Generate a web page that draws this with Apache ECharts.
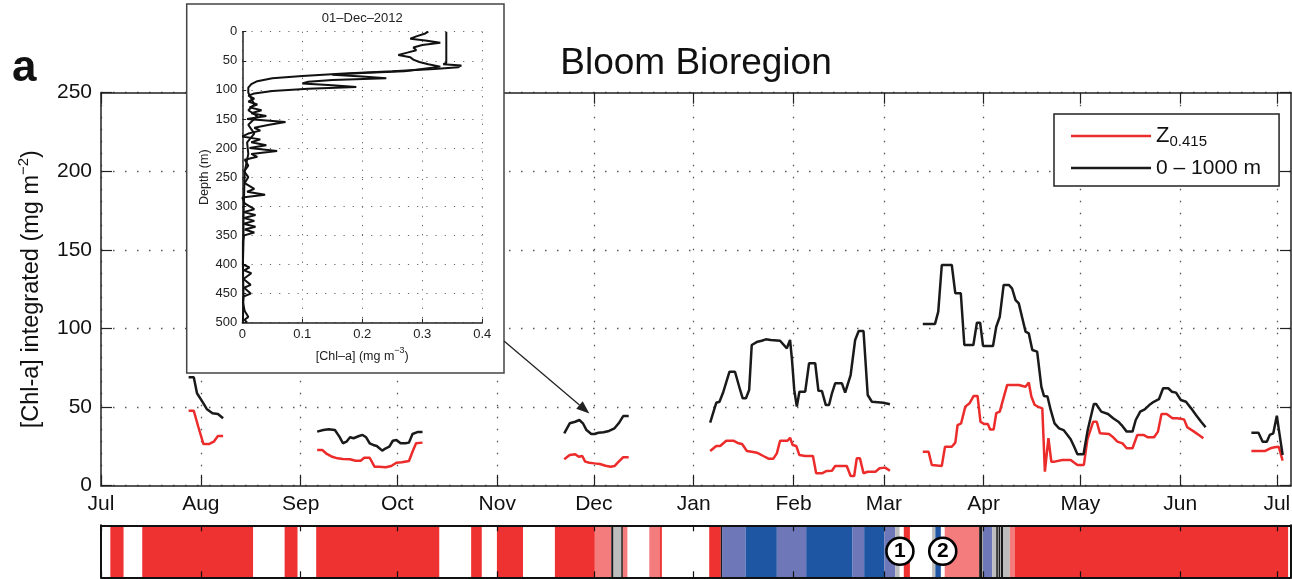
<!DOCTYPE html>
<html><head><meta charset="utf-8">
<script src="https://cdn.jsdelivr.net/npm/echarts@6/dist/echarts.min.js"></script>
<style>html,body{margin:0;padding:0;background:#fff}#c{width:1292px;height:579px}</style>
</head><body><div id="c"></div>
<script>
// ---------------- DATA (x = days since 1 Jul 2012) ----------------
const monthLabels = ['Jul','Aug','Sep','Oct','Nov','Dec','Jan','Feb','Mar','Apr','May','Jun','Jul'];
const xMaxDay = 369.4;            // axis ends ~5 Jul 2013
const yMin = 0, yMax = 250, yStep = 50;

// 0-1000 m integrated (black)
const bAugDays = [27.2, 28.8, 29.8, 31.8, 32.9, 34.6, 36.3, 37.9];
const bAugVals = [69, 69, 58.8, 52.4, 48.6, 46.1, 45.6, 42.9];
const bSepDays = [67.1, 69.0, 70.7, 72.6, 74.0, 75.1, 76.2, 77.3, 78.4, 80.1, 81.2, 82.3, 83.4, 84.5, 85.6, 87.3, 88.4, 89.5, 90.6, 91.7, 93.0, 94.5, 95.6, 96.7, 98.4, 99.8];
const bSepVals = [34.4, 35.4, 35.9, 35.4, 31.2, 27.0, 28.0, 30.8, 30.2, 31.6, 32.3, 30.8, 27.0, 25.9, 25.3, 22.3, 23.8, 24.8, 28.6, 29.1, 27.0, 27.0, 27.4, 32.9, 34.2, 34.2];
const bDecDays = [143.8, 145.5, 147.2, 148.5, 149.6, 150.7, 152.2, 153.2, 154.4, 156.0, 157.7, 159.4, 160.7, 162.1, 163.8];
const bDecVals = [33.3, 39.7, 40.7, 41.8, 39.7, 35.4, 32.9, 32.9, 33.7, 34.0, 34.8, 36.5, 39.7, 44.3, 44.3];
const bJanDays = [189.1, 191.0, 192.0, 193.2, 195.1, 196.8, 198.4, 199.2, 200.2, 201.2, 202.0, 203.8, 205.1, 206.4, 207.9, 210.8, 212.9, 213.9, 214.5, 215.2, 216.0, 216.8, 218.6, 219.8, 221.7, 222.7, 223.8, 225.0, 226.0, 226.9, 227.9, 230.0, 231.0, 232.7, 234.1, 235.2, 236.7, 238.0, 239.3, 242.9, 244.9];
const bJanVals = [40.1, 52.8, 53.4, 59.8, 72.5, 72.5, 60.9, 55.6, 55.6, 60.9, 89.5, 91.6, 92.2, 93.1, 92.7, 92.2, 87.4, 92.7, 80.0, 60.9, 50.3, 59.8, 59.8, 77.9, 77.9, 60.4, 60.2, 51.3, 51.3, 58.8, 65.1, 65.1, 59.2, 70.4, 92.7, 98.4, 98.4, 57.7, 53.4, 52.8, 51.8];
const bMarDays = [255.1, 258.9, 259.9, 261.0, 264.1, 265.2, 266.9, 268.0, 270.8, 271.9, 272.9, 273.8, 276.9, 277.9, 279.0, 280.2, 281.8, 282.8, 283.9, 284.9, 286.0, 287.0, 288.0, 289.1, 290.6, 291.9, 292.7, 293.8, 294.8, 296.0, 297.4, 298.8, 300.0, 301.0, 302.1, 303.1, 305.0, 306.3, 308.2, 308.9, 310.5, 312.6, 314.2, 315.8, 316.8, 318.4, 320.2, 321.2, 322.6, 324.0, 325.4, 326.8, 328.4, 329.7, 331.3, 332.4, 333.7, 335.2, 336.8, 338.4, 339.9, 341.5, 342.9];
const bMarVals = [102.9, 102.9, 110.7, 140.4, 140.4, 122.4, 122.4, 89.5, 89.5, 103.7, 103.7, 88.9, 88.9, 101.1, 107.5, 127.7, 127.7, 125.6, 118.1, 116.0, 106.5, 98.0, 96.9, 86.3, 85.3, 63.0, 57.1, 56.7, 48.2, 39.7, 36.5, 35.4, 32.3, 29.5, 24.8, 20.0, 20.0, 35.4, 52.0, 52.0, 47.1, 45.6, 42.9, 40.7, 38.6, 34.4, 34.4, 41.8, 47.1, 48.6, 51.3, 53.4, 55.0, 62.0, 62.0, 59.8, 59.2, 54.5, 53.4, 49.2, 45.0, 40.7, 37.2];
const bJulDays = [357.1, 359.3, 360.6, 361.9, 362.8, 363.9, 365.0, 365.8, 366.8];
const bJulVals = [33.7, 33.7, 28.0, 28.0, 32.3, 33.3, 44.5, 33.3, 19.5];

// Z0.415 integrated (red)
const rAugDays = [27.2, 28.8, 30.2, 31.8, 33.5, 35.0, 36.3, 37.9];
const rAugVals = [47.7, 47.7, 37.5, 26.5, 26.5, 28.0, 31.6, 31.6];
const rSepDays = [67.1, 68.7, 70.1, 71.8, 73.4, 75.1, 77.3, 79.0, 80.6, 81.7, 83.4, 84.9, 86.2, 88.4, 90.1, 91.7, 93.4, 95.6, 96.7, 97.8, 99.8];
const rSepVals = [22.7, 22.7, 20.2, 18.4, 17.4, 17.0, 16.8, 15.9, 15.9, 17.8, 17.8, 12.1, 12.1, 11.7, 12.5, 14.6, 14.9, 15.7, 21.6, 27.0, 27.4];
const rDecDays = [143.8, 145.5, 147.2, 148.3, 149.4, 150.3, 151.6, 153.2, 154.9, 156.6, 158.2, 159.4, 160.7, 162.1, 163.8];
const rDecVals = [16.8, 19.5, 20.0, 18.4, 18.9, 15.3, 14.6, 14.2, 13.8, 12.7, 12.1, 12.5, 15.3, 18.1, 18.1];
const rJanDays = [189.1, 191.0, 192.2, 194.1, 196.3, 197.9, 199.0, 200.5, 202.0, 203.6, 205.6, 207.2, 208.7, 209.8, 210.8, 213.1, 213.9, 214.7, 215.8, 216.8, 218.6, 221.0, 222.0, 223.8, 225.3, 226.9, 227.9, 229.5, 231.5, 232.7, 233.8, 234.6, 235.6, 236.7, 238.0, 239.3, 240.4, 241.7, 243.4, 244.9];
const rJanVals = [22.1, 25.3, 25.3, 28.6, 28.6, 27.0, 26.5, 22.1, 21.6, 21.0, 18.9, 17.2, 17.2, 20.6, 28.6, 28.6, 30.5, 25.9, 25.3, 19.5, 18.9, 18.9, 7.9, 7.9, 9.4, 9.5, 12.5, 12.5, 12.5, 6.2, 6.2, 17.4, 17.4, 7.9, 8.9, 8.9, 8.9, 11.1, 11.5, 9.5];
const rMarDays = [255.1, 256.9, 257.9, 261.0, 262.0, 264.1, 265.2, 265.9, 267.0, 268.3, 269.6, 270.9, 272.1, 273.0, 274.2, 275.3, 276.0, 277.1, 277.9, 279.0, 279.7, 281.3, 284.9, 287.0, 288.0, 288.8, 289.8, 290.8, 292.2, 293.0, 294.1, 295.0, 296.0, 298.4, 301.0, 303.1, 305.1, 306.2, 308.0, 309.1, 310.1, 312.9, 314.0, 315.5, 317.1, 318.4, 320.2, 321.7, 323.6, 325.0, 326.9, 328.1, 329.2, 330.8, 332.6, 334.1, 336.2, 337.2, 339.3, 340.8, 342.2];
const rMarVals = [21.6, 21.6, 13.2, 12.6, 24.8, 24.8, 27.4, 38.6, 39.7, 50.3, 52.4, 57.1, 57.1, 40.7, 39.2, 39.2, 35.8, 35.8, 46.1, 47.1, 52.4, 64.1, 64.1, 63.0, 65.6, 56.7, 51.5, 50.3, 49.2, 8.9, 30.2, 15.3, 15.3, 16.4, 16.4, 13.2, 13.2, 29.5, 40.7, 40.7, 33.3, 32.9, 31.2, 28.0, 26.9, 23.8, 23.8, 32.3, 32.3, 30.8, 30.8, 34.4, 45.6, 45.6, 42.9, 42.9, 42.2, 37.2, 34.4, 32.3, 30.2];
const rJulDays = [357.1, 361.4, 363.0, 364.3, 365.6, 366.8];
const rJulVals = [22.1, 22.1, 23.8, 24.4, 24.8, 16.0];

// class strip: start day, end day, class (0 red,1 light red,2 grey,3 black,4 light blue,5 dark blue)
const stripStart = [2.9, 12.8, 57.0, 66.8, 114.9, 122.9, 140.9, 153.3, 158.4, 159.1, 161.5, 162.0, 170.2, 173.4,
  188.8, 192.4, 192.8, 200.1, 209.8, 218.9, 233.3, 236.9, 243.2, 246.6, 249.2, 258.0, 259.0, 261.9, 272.6, 273.8, 276.7, 277.9, 278.6, 279.3, 280.0, 282.1, 283.6];
const stripEnd = [7.0, 47.2, 61.0, 105.0, 118.2, 131.0, 153.3, 158.4, 159.1, 161.5, 162.0, 163.4, 173.4, 174.1,
  192.4, 192.8, 200.1, 209.8, 218.9, 233.3, 236.9, 243.2, 246.6, 247.9, 251.1, 259.0, 260.7, 272.6, 273.6, 276.7, 277.9, 278.4, 279.1, 280.0, 282.1, 283.6, 368.5];
const stripClass = [0, 0, 0, 0, 0, 0, 0, 1, 3, 2, 3, 1, 1, 0,
  0, 3, 4, 5, 4, 5, 4, 5, 4, 2, 0, 2, 5, 1, 3, 4, 2, 3, 3, 3, 2, 1, 0];
const stripColors = ['#ee3131', '#f47c7c', '#bdbdbd', '#1a1a1a', '#6e77b8', '#1f56a4'];
const markerDays = [248.0, 261.3];
const markerLabels = ['1', '2'];

// inset profile, 01-Dec-2012 (chl mg m-3 vs depth m)
const profADepth = [0, 53, 56, 58, 61, 64, 68, 72, 76, 80, 85, 90, 96, 105, 115, 125, 135, 145, 160, 175, 190, 210, 240, 280, 320, 360, 400, 450, 500];
const profAChl = [0.34, 0.34, 0.335, 0.365, 0.36, 0.32, 0.25, 0.17, 0.1, 0.05, 0.025, 0.015, 0.01, 0.01, 0.015, 0.02, 0.01, 0.025, 0.01, 0.02, 0.008, 0.01, 0.004, 0.003, 0.002, 0.002, 0.001, 0.002, 0.001];
const profBDepth = [0, 3, 8, 12, 15, 19, 23, 27, 32, 36, 40, 44, 48, 52, 56, 60, 64, 68, 71, 74, 77, 80, 83, 86, 89, 92, 95, 98, 102, 106,
  110, 115, 120, 125, 130, 135, 140, 145, 150, 155, 160, 165, 170, 175, 180, 185, 190, 195, 200, 205, 210, 215, 220, 230, 240, 250, 260, 270, 275, 280, 285, 295, 305, 310, 315, 320, 325, 330, 335, 340, 345, 350, 360, 380, 400, 405, 410, 415, 425, 435, 440, 450, 455, 465, 480, 490, 495, 500];
const profBChl = [0.31, 0.305, 0.29, 0.28, 0.305, 0.33, 0.30, 0.285, 0.29, 0.275, 0.26, 0.28, 0.285, 0.295, 0.31, 0.33, 0.30, 0.27, 0.2, 0.15, 0.2, 0.24, 0.15, 0.11, 0.1, 0.15, 0.19, 0.11, 0.05, 0.02,
  0.01, 0.02, 0.01, 0.025, 0.012, 0.032, 0.015, 0.04, 0.008, 0.072, 0.045, 0.02, 0.03, 0.01, 0.0, 0.03, 0.015, 0.04, 0.012, 0.058, 0.015, 0.025, 0.004, 0.01, 0.003, 0.01, 0.004, 0.02, 0.008, 0.038, 0.0, 0.004, 0.02, 0.002, 0.022, 0.003, 0.02, 0.002, 0.022, 0.004, 0.02, 0.003, 0.001, 0.001, 0.001, 0.012, 0.003, 0.015, 0.002, 0.014, 0.003, 0.014, 0.002, 0.001, 0.004, 0.01, 0.004, 0.008];
const arrowTarget = [151.6, 46];  // point the arrow at the 1 Dec profile

// ---------------- BUILD ----------------
const FONT = 'Liberation Sans';
const RED = '#ec2b2b', BLACK = '#1a1a1a', AX = '#222';
const GAP = ['-', '-'];
const pairs = (d, v) => d.map((x, i) => [x, v[i]]);
const join = segs => segs.reduce((a, s, i) => i ? a.concat([GAP], s) : a.concat(s), []);
const blackData = join([pairs(bAugDays,bAugVals), pairs(bSepDays,bSepVals), pairs(bDecDays,bDecVals), pairs(bJanDays,bJanVals), pairs(bMarDays,bMarVals), pairs(bJulDays,bJulVals)]);
const redData = join([pairs(rAugDays,rAugVals), pairs(rSepDays,rSepVals), pairs(rDecDays,rDecVals), pairs(rJanDays,rJanVals), pairs(rMarDays,rMarVals), pairs(rJulDays,rJulVals)]);
const monthTicks = monthLabels.map((m, i) => Math.round((new Date(2012, 6 + i, 1) - new Date(2012, 6, 1)) / 864e5));
const stripData = stripStart.map((s, i) => [s, stripEnd[i], stripClass[i]]);

const dotted = { color: '#555', width: 1.3, type: [1.5, 10.5] };
const dottedInset = { color: '#666', width: 1, type: [1.2, 8] };
const noLbl = { show: false };

const xBase = (grid, pos, extra) => Object.assign({
  type: 'value', gridIndex: grid, min: 0, max: xMaxDay, position: pos,
  axisLine: { show: true, onZero: false, lineStyle: { color: AX, width: 1.5 } },
  axisTick: { show: true, inside: true, length: 11, customValues: monthTicks, lineStyle: { color: AX, width: 1.2 } },
  axisLabel: noLbl, splitLine: { show: false }
}, extra || {});

const chart = echarts.init(document.getElementById('c'));
const option = {
  animation: false,
  textStyle: { fontFamily: FONT },
  grid: [
    { left: 101, right: 1, top: 92.7, bottom: 93.3, outerBoundsMode: 'none' },
    { left: 101, right: 1, top: 525.3, height: 52, outerBoundsMode: 'none' },
    { left: 242.3, top: 31.7, width: 240, height: 291, outerBoundsMode: 'none' }
  ],
  xAxis: [
    xBase(0, 'bottom', {
      axisLabel: { show: true, customValues: monthTicks, formatter: v => monthLabels[monthTicks.indexOf(v)],
        fontSize: 21, color: '#111', margin: 8, fontFamily: FONT },
      splitLine: { show: true, lineStyle: dotted }
    }),
    xBase(0, 'top'),
    xBase(1, 'bottom', { z: 10, axisLine: { show: true, onZero: false, lineStyle: { color: '#111', width: 2 } },
      axisTick: { show: true, inside: true, length: 6, customValues: monthTicks, lineStyle: { color: '#111', width: 1.2 } } }),
    xBase(1, 'top', { z: 10, axisLine: { show: true, onZero: false, lineStyle: { color: '#111', width: 2 } },
      axisTick: { show: true, inside: true, length: 6, customValues: monthTicks, lineStyle: { color: '#111', width: 1.2 } } }),
    { type: 'value', gridIndex: 2, min: 0, max: 0.4, interval: 0.1, position: 'bottom', z: 30,
      axisLine: { show: true, onZero: false, lineStyle: { color: AX, width: 1.5 } },
      axisTick: { show: true, inside: true, length: 4, lineStyle: { color: AX } },
      axisLabel: { fontSize: 13, color: '#222', margin: 5, fontFamily: FONT },
      splitLine: { show: true, lineStyle: dottedInset },
      name: '[Chl–a] (mg m{sup|−3})', nameLocation: 'middle', nameGap: 14,
      nameTextStyle: { fontSize: 12.5, color: '#222', fontFamily: FONT, lineHeight: 22,
        rich: { sup: { fontSize: 9, lineHeight: 9, verticalAlign: 'top', fontFamily: FONT } } } }
  ],
  yAxis: [
    { type: 'value', gridIndex: 0, min: yMin, max: yMax, interval: yStep, position: 'left',
      axisLine: { show: true, onZero: false, lineStyle: { color: AX, width: 1.5 } },
      axisTick: { show: true, inside: true, length: 11, lineStyle: { color: AX, width: 1.2 } },
      axisLabel: { fontSize: 21, color: '#111', margin: 9, fontFamily: FONT },
      splitLine: { show: true, lineStyle: dotted },
      name: '[Chl-a] integrated (mg m{sup|−2})', nameLocation: 'middle', nameGap: 54,
      nameTextStyle: { fontSize: 23.5, color: '#111', fontFamily: FONT, lineHeight: 30,
        rich: { sup: { fontSize: 15, lineHeight: 15, verticalAlign: 'top', fontFamily: FONT } } } },
    { type: 'value', gridIndex: 0, min: yMin, max: yMax, interval: yStep, position: 'right',
      axisLine: { show: true, onZero: false, lineStyle: { color: AX, width: 1.5 } },
      axisTick: { show: true, inside: true, length: 11, lineStyle: { color: AX, width: 1.2 } },
      axisLabel: noLbl, splitLine: { show: false } },
    { type: 'value', gridIndex: 1, min: 0, max: 1, position: 'left', z: 10,
      axisLine: { show: true, onZero: false, lineStyle: { color: '#111', width: 2 } },
      axisTick: { show: false }, axisLabel: noLbl, splitLine: { show: false } },
    { type: 'value', gridIndex: 1, min: 0, max: 1, position: 'right', z: 10,
      axisLine: { show: true, onZero: false, lineStyle: { color: '#111', width: 2 } },
      axisTick: { show: false }, axisLabel: noLbl, splitLine: { show: false } },
    { type: 'value', gridIndex: 2, min: 0, max: 500, interval: 50, inverse: true, position: 'left', z: 30,
      axisLine: { show: true, onZero: false, lineStyle: { color: AX, width: 1.5 } },
      axisTick: { show: true, inside: true, length: 4, lineStyle: { color: AX } },
      axisLabel: { fontSize: 13, color: '#222', margin: 5, fontFamily: FONT },
      splitLine: { show: true, lineStyle: dottedInset },
      name: 'Depth (m)', nameLocation: 'middle', nameGap: 31,
      nameTextStyle: { fontSize: 12.5, color: '#222', fontFamily: FONT } }
  ],
  legend: {
    data: ['Z0.415', '0 – 1000 m'], orient: 'vertical', left: 1054, top: 114,
    padding: [9, 18, 5, 17], itemGap: 6, itemWidth: 80, itemHeight: 2.5, icon: 'rect',
    borderColor: '#222', borderWidth: 1.5, backgroundColor: '#fff', selectedMode: false,
    formatter: n => n === 'Z0.415' ? '{z|Z}{s|0.415}' : n,
    textStyle: { fontSize: 21, color: '#111', fontFamily: FONT, lineHeight: 26,
      rich: { z: { fontSize: 22, lineHeight: 26, fontFamily: FONT, color: '#111' },
              s: { fontSize: 15, lineHeight: 15, verticalAlign: 'bottom', fontFamily: FONT, color: '#111' } } }
  },
  series: [
    { name: 'Z0.415', type: 'line', xAxisIndex: 0, yAxisIndex: 0, data: redData, symbol: 'none', showSymbol: false,
      connectNulls: false, lineStyle: { color: RED, width: 2.5 }, itemStyle: { color: RED }, z: 3 },
    { name: '0 – 1000 m', type: 'line', xAxisIndex: 0, yAxisIndex: 0, data: blackData, symbol: 'none', showSymbol: false,
      connectNulls: false, lineStyle: { color: BLACK, width: 2.5 }, itemStyle: { color: BLACK }, z: 3 },
    { type: 'custom', xAxisIndex: 2, yAxisIndex: 2, data: stripData, clip: true, z: 2,
      encode: { x: [0, 1] },
      renderItem: (params, api) => {
        const p0 = api.coord([api.value(0), 1]);
        const p1 = api.coord([api.value(1), 0]);
        return { type: 'rect', shape: { x: p0[0], y: p0[1], width: p1[0] - p0[0], height: p1[1] - p0[1] },
          style: { fill: stripColors[api.value(2)] } };
      } },
    { type: 'scatter', xAxisIndex: 2, yAxisIndex: 2, z: 5, symbol: 'circle', symbolSize: 27,
      data: markerDays.map((d, i) => ({ value: [d, 0.5], name: markerLabels[i] })),
      itemStyle: { color: '#fff', borderColor: '#000', borderWidth: 2.6, opacity: 1 },
      label: { show: true, position: 'inside', formatter: '{b}', fontSize: 21, fontWeight: 'bold', color: '#000', fontFamily: FONT } },
    { type: 'line', xAxisIndex: 4, yAxisIndex: 4, z: 31, symbol: 'none', showSymbol: false,
      data: profAChl.map((c, i) => [c, profADepth[i]]), lineStyle: { color: '#111', width: 2 } },
    { type: 'line', xAxisIndex: 4, yAxisIndex: 4, z: 31, symbol: 'none', showSymbol: false,
      data: profBChl.map((c, i) => [c, profBDepth[i]]), lineStyle: { color: '#111', width: 2 } }
  ]
};
chart.setOption(option);

// inset frame, titles and arrow (annotation)
const inset = { x: 186.7, y: 4, w: 317.3, h: 369 };
const arrowStartY = 341;
const tip = chart.convertToPixel({ xAxisIndex: 0, yAxisIndex: 0 }, arrowTarget);
const start = [inset.x + inset.w, arrowStartY];
const dx = tip[0] - start[0], dy = tip[1] - start[1], L = Math.hypot(dx, dy);
const ux = dx / L, uy = dy / L, hl = 13, hw = 5;
const base = [tip[0] - ux * hl, tip[1] - uy * hl];
chart.setOption({
  graphic: [
    { type: 'rect', z: 20, shape: { x: inset.x, y: inset.y, width: inset.w, height: inset.h },
      style: { fill: '#fff', stroke: '#444', lineWidth: 1.5 } },
    { type: 'text', z: 40, x: inset.x + 175.6, y: 18,
      style: { text: '01–Dec–2012', fontSize: 13, fontFamily: FONT, fill: '#222', align: 'center', verticalAlign: 'middle' } },
    { type: 'text', z: 40, x: 696, y: 64,
      style: { text: 'Bloom Bioregion', fontSize: 37, fontFamily: FONT, fill: '#111', align: 'center', verticalAlign: 'middle' } },
    { type: 'text', z: 40, x: 12, y: 69,
      style: { text: 'a', fontSize: 44, fontWeight: 'bold', fontFamily: FONT, fill: '#111', align: 'left', verticalAlign: 'middle' } },
    { type: 'line', z: 40, shape: { x1: start[0], y1: start[1], x2: base[0], y2: base[1] },
      style: { stroke: '#222', lineWidth: 1.3 } },
    { type: 'polygon', z: 40, shape: { points: [tip, [base[0] - uy * hw, base[1] + ux * hw], [base[0] + uy * hw, base[1] - ux * hw]] },
      style: { fill: '#222' } }
  ]
});
</script>
</body></html>
